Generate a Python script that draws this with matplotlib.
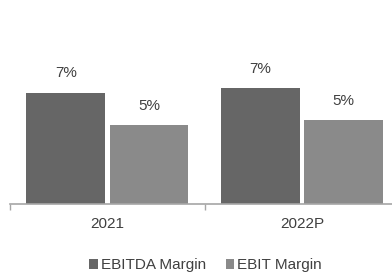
import matplotlib
matplotlib.use("Agg")
import matplotlib.pyplot as plt
from matplotlib.patches import Patch
import numpy as np

categories = ["2021", "2022P"]
series_names = ["EBITDA Margin", "EBIT Margin"]
ebitda = [6.9, 7.15]
ebit = [4.9, 5.2]
colors = ["#666666", "#8a8a8a"]

plt.rcParams['font.family'] = ['Liberation Sans', 'DejaVu Sans']
W, H = 392, 273
fig = plt.figure(figsize=(W/100, H/100), dpi=100)
ax = fig.add_axes([10/W, 69.5/H, 389.5/W, 203.5/H])

x = np.arange(len(categories))
bw = 0.404
off = 0.214
for vals, dx, c in [(ebitda, -off, colors[0]), (ebit, off, colors[1])]:
    bars = ax.bar(x + dx, vals, bw, color=c, edgecolor='none')
    for xi, v in zip(x + dx, vals):
        ax.annotate(f"{v:.0f}%", (xi, v), xytext=(0, 13.7), textcoords='offset points',
                    ha='center', va='center', fontsize=11, color='#404040')

ax.set_xlim(-0.5, len(categories) - 0.5)
ax.set_ylim(0, 12.65)
ax.set_yticks([])
ax.set_xticks(x)
ax.set_xticklabels(categories, fontsize=11, color='#404040')
ax.tick_params(axis='x', which='major', length=0, pad=10)
ax.set_xticks(np.arange(-0.5, len(categories), 1), minor=True)
ax.tick_params(axis='x', which='minor', length=4, color='#a6a6a6', width=1)
for s in ['top', 'right', 'left']:
    ax.spines[s].set_visible(False)
ax.spines['bottom'].set_color('#a6a6a6')
ax.spines['bottom'].set_linewidth(1.2)

handles = [Patch(facecolor=c, edgecolor='none') for c in colors]
fig.legend(handles, series_names, loc='center', bbox_to_anchor=(205.5/W, 7.5/H),
           ncol=2, frameon=False, fontsize=11, handlelength=0.55, handleheight=0.55,
           handletextpad=0.2, columnspacing=1.3, labelcolor='#404040')

fig.savefig("out.png", dpi=100)
